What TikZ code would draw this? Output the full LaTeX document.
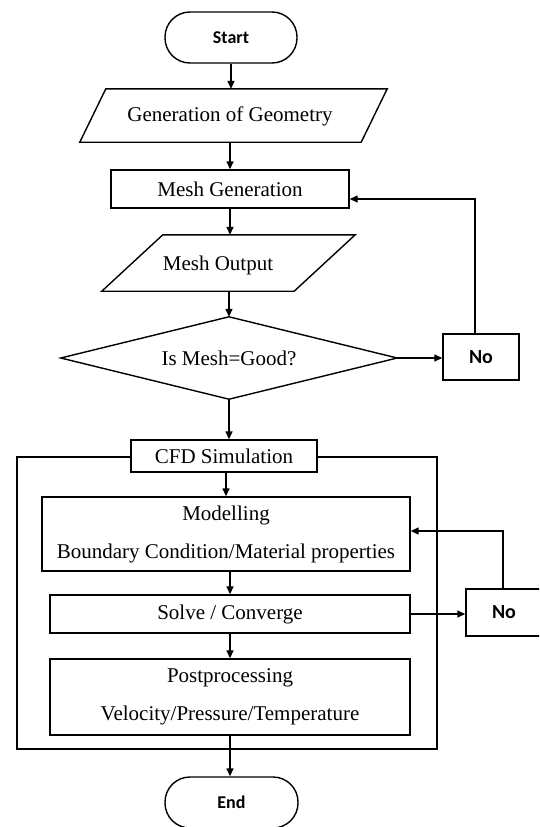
\documentclass[tikz,border=0pt]{standalone}
\usepackage{fontspec}
\setmainfont{Liberation Serif}
\newfontfamily\calib{Carlito}
\usetikzlibrary{arrows.meta}
\begin{document}
\begin{tikzpicture}[x=1pt,y=-1pt,
  every node/.style={inner sep=0pt, font=\fontsize{21}{25}\selectfont},
  line/.style={line width=1.4pt},
  box/.style={draw, fill=white, line width=1.4pt, rectangle},
  twoline/.style={box, align=center, font=\fontsize{21}{38}\selectfont},
  term/.style={draw, fill=white, line width=1.4pt, rounded corners=25pt, font=\calib\bfseries\fontsize{18}{22}\selectfont},
  nobox/.style={draw, fill=white, line width=1.4pt, font=\calib\bfseries\fontsize{20}{24}\selectfont},
  arr/.style={line width=1.4pt, -{Triangle[length=8pt,width=7pt]}},
]
\useasboundingbox (0,0) rectangle (539,827);
\clip (0,0) rectangle (539,827);

% outer simulation frame
\node[draw, line width=1.4pt, minimum width=420, minimum height=292] (simbox) at (227,603) {};

% terminals
\node[term, minimum width=132, minimum height=51] (start) at (231,37.5) {Start};
\node[term, minimum width=133, minimum height=51] (end) at (231.5,802.5) {End};

% parallelogram: generation of geometry
\node[minimum width=307, minimum height=53] (geom) at (233.5,115.5) {};
\draw[line] ([xshift=26]geom.north west) -- (geom.north east) -- ([xshift=-26]geom.south east) -- (geom.south west) -- cycle;
\node (geomlbl) at (230,116) {Generation of Geometry};

% mesh generation
\node[box, minimum width=238, minimum height=38] (meshgen) at (230,189) {Mesh Generation};

% parallelogram: mesh output
\node[minimum width=253, minimum height=56] (meshout) at (228.5,263) {};
\draw[line] ([xshift=61]meshout.north west) -- (meshout.north east) -- ([xshift=-61]meshout.south east) -- (meshout.south west) -- cycle;
\node (meshoutlbl) at (218,265) {Mesh Output};

% decision
\node[minimum width=336, minimum height=82] (decide) at (229,358) {Is Mesh=Good?};
\draw[line] (decide.north) -- (decide.east) -- (decide.south) -- (decide.west) -- cycle;

% No boxes
\node[nobox, minimum width=76, minimum height=46] (no1) at (481,357) {No};
\node[nobox, minimum width=76, minimum height=47] (no2) at (504,612.5) {No};

% CFD section
\node[box, minimum width=186, minimum height=32] (cfd) at (224,456) {CFD Simulation};
\node[twoline, minimum width=368, minimum height=74] (model) at (226,534) {Modelling\\Boundary Condition/Material properties};
\node[box, minimum width=360, minimum height=38] (solve) at (230,614) {Solve / Converge};
\node[twoline, minimum width=360, minimum height=76] (post) at (230,697) {Postprocessing\\Velocity/Pressure/Temperature};

% main flow arrows
\draw[arr] (start.south) -- (start.south |- geom.north);
\draw[arr] (meshgen.north |- geom.south) -- (meshgen.north);
\draw[arr] (meshgen.south) -- (meshgen.south |- meshout.north);
\draw[arr] (decide.north |- meshout.south) -- (decide.north);
\draw[arr] (decide.south) -- (decide.south |- cfd.north);
\draw[arr] (model.north |- cfd.south) -- (model.north);
\draw[arr] (solve.north |- model.south) -- (solve.north);
\draw[arr] (solve.south) -- (solve.south |- post.north);
\draw[arr] (post.south) -- (post.south |- end.north);

% decisions to No
\draw[arr] (decide.east) -- (decide.east -| no1.west);
\draw[arr] (solve.east) -- (solve.east -| no2.west);

% feedback loops
\coordinate (fb1) at (475,199);
\draw[arr] (no1.north -| fb1) -- (fb1) -- (fb1 -| meshgen.east);
\coordinate (fb2) at (503,531);
\draw[arr] (no2.north -| fb2) -- (fb2) -- (fb2 -| model.east);
\end{tikzpicture}
\end{document}
